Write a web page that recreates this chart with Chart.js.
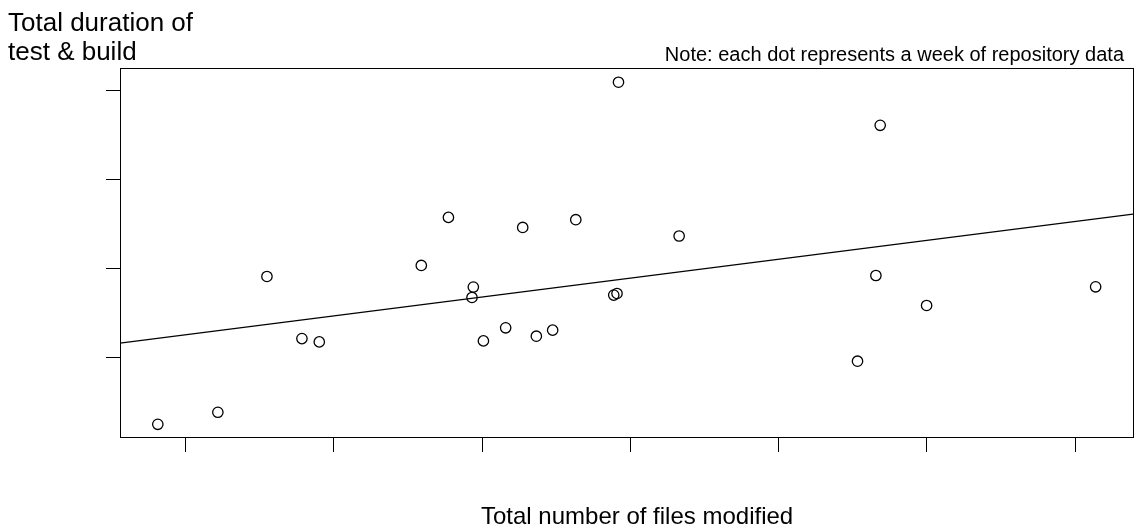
<!DOCTYPE html>
<html>
<head>
<meta charset="utf-8">
<script src="https://cdn.jsdelivr.net/npm/chart.js@4.4.1/dist/chart.umd.min.js"></script>
<style>
html,body{margin:0;padding:0;background:#fff;}
#wrap{width:1136px;height:529px;position:relative;}
</style>
</head>
<body>
<div id="wrap"><canvas id="c" width="1136" height="529"></canvas></div>
<script>
// Files modified per week (x) and total duration of test & build (y)
const filesModified = [81.3, 121.8, 154.9, 178.5, 190.2, 259.0, 277.3, 294.1, 293.2, 300.9, 315.9, 327.4, 336.6, 347.6, 363.2, 388.8, 391.0, 392.0, 432.9, 553.2, 565.6, 568.5, 599.8, 713.8];
const buildDuration = [246, 381, 1907, 1209, 1172, 2031, 2571, 1788, 1671, 1183, 1330, 2458, 1236, 1304, 2545, 1698, 1716, 4090, 2362, 955, 1918, 3606, 1581, 1791];
// Fitted trend line end points
const trendX = [55.8, 739];
const trendY = [1157, 2607];
// Axis tick values (labels not shown in the original)
const xTicks = [100, 200, 300, 400, 500, 600, 700];
const yTicks = [1000, 2000, 3000, 4000];
const xRange = [55.8, 739];
const yRange = [103, 4250];

const yTitleLines = ["Total duration of", "test & build"];
const xTitle = "Total number of files modified";
const noteText = "Note: each dot represents a week of repository data";

const FONT = '"Liberation Sans", Arial, Helvetica, sans-serif';

const points = filesModified.map((x, i) => ({x: x, y: buildDuration[i]}));
const trend = trendX.map((x, i) => ({x: x, y: trendY[i]}));

const textPlugin = {
  id: 'texts',
  afterDraw(chart) {
    const ctx = chart.ctx;
    const a = chart.chartArea;
    ctx.save();
    // box
    ctx.strokeStyle = '#000';
    ctx.lineWidth = 1;
    ctx.strokeRect(Math.round(a.left) + 0.5, Math.round(a.top) + 0.5, Math.round(a.right - a.left), Math.round(a.bottom - a.top));
    ctx.fillStyle = '#000';
    ctx.textBaseline = 'alphabetic';
    ctx.font = '26px ' + FONT;
    ctx.textAlign = 'left';
    ctx.fillText(yTitleLines[0], 8, 31);
    ctx.fillText(yTitleLines[1], 8, 60);
    ctx.font = '24px ' + FONT;
    ctx.fillText(xTitle, 481, 524);
    ctx.font = '20px ' + FONT;
    ctx.textAlign = 'right';
    ctx.fillText(noteText, 1124, 61);
    ctx.restore();
  }
};

new Chart(document.getElementById('c'), {
  type: 'scatter',
  data: {
    datasets: [
      {
        data: points,
        pointStyle: 'circle',
        pointRadius: 5.2,
        pointHoverRadius: 5.2,
        pointBorderWidth: 1.3,
        borderColor: '#000',
        backgroundColor: 'rgba(0,0,0,0)',
        showLine: false
      },
      {
        data: trend,
        showLine: true,
        borderColor: '#000',
        borderWidth: 1.3,
        pointRadius: 0,
        fill: false
      }
    ]
  },
  options: {
    responsive: false,
    animation: false,
    events: [],
    layout: {autoPadding: false, padding: {left: 106, top: 68, right: 3, bottom: 77}},
    plugins: {legend: {display: false}, tooltip: {enabled: false}, title: {display: false}},
    scales: {
      x: {
        type: 'linear',
        min: xRange[0], max: xRange[1],
        afterBuildTicks: s => { s.ticks = xTicks.map(v => ({value: v})); },
        afterFit: s => { s.height = 15; },
        ticks: {display: false},
        grid: {drawOnChartArea: false, drawTicks: true, tickLength: 15, color: '#000', lineWidth: 1},
        border: {display: true, color: '#000', width: 1}
      },
      y: {
        type: 'linear',
        min: yRange[0], max: yRange[1],
        afterBuildTicks: s => { s.ticks = yTicks.map(v => ({value: v})); },
        afterFit: s => { s.width = 14; },
        ticks: {display: false},
        grid: {drawOnChartArea: false, drawTicks: true, tickLength: 14, color: '#000', lineWidth: 1},
        border: {display: true, color: '#000', width: 1}
      }
    }
  },
  plugins: [textPlugin]
});
</script>
</body>
</html>
